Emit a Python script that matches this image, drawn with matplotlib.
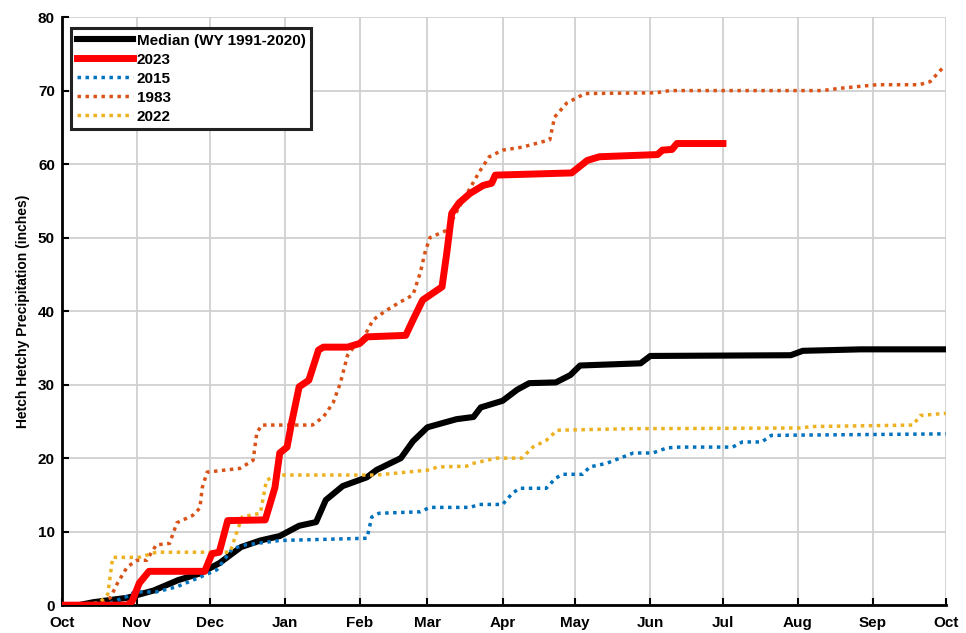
import matplotlib
matplotlib.use("Agg")
import matplotlib.pyplot as plt

plt.rcParams['font.family'] = ['Liberation Sans', 'DejaVu Sans']
plt.rcParams['font.weight'] = 'bold'

# day of water year (0 = Oct 1) and cumulative precipitation (inches)
median_days = [0, 7, 13, 27, 38, 48, 57, 65, 74, 82, 90, 98, 105, 109, 116, 126, 130, 140,
               145, 151, 163, 170, 173, 182, 188, 193, 204, 210, 214, 239, 243, 301, 306, 330, 365]
median_vals = [0, 0, 0.4, 1, 2, 3.4, 4.3, 5.7, 7.9, 8.8, 9.4, 10.8, 11.3, 14.3, 16.2, 17.4, 18.4, 20,
               22.3, 24.2, 25.3, 25.6, 26.9, 27.8, 29.3, 30.2, 30.3, 31.3, 32.6, 32.9, 33.9, 34, 34.6, 34.8, 34.8]

wy2023_days = [0, 27, 29, 32, 36, 59, 62, 65, 68.5, 84, 88, 90, 93, 95, 98, 102, 106, 108, 118,
               123, 126, 142, 145, 149, 153, 157, 159, 161, 164, 168.5, 174, 177.5, 179, 210.5,
               217, 222, 246, 248, 252, 254, 273]
wy2023_vals = [0, 0, 0.5, 3, 4.6, 4.6, 7, 7.2, 11.5, 11.6, 16, 20.7, 21.5, 25, 29.7, 30.6, 34.7, 35.1, 35.1,
               35.6, 36.5, 36.7, 38.8, 41.5, 42.4, 43.3, 48, 53.3, 54.7, 56, 57.1, 57.4, 58.5, 58.8,
               60.5, 61, 61.3, 61.9, 62, 62.8, 62.8]

wy2015_days = [0, 20, 27, 30, 39, 47.5, 57, 64, 70.5, 76, 90, 126, 128, 131, 148, 152, 168.5, 172.5,
               182, 186, 189, 200, 204, 207, 215, 218, 225, 236, 244, 250, 255, 277, 281, 289, 293, 365]
wy2015_vals = [0, 0.3, 1.2, 1.8, 1.8, 2.5, 3.8, 4.8, 7.7, 8.2, 8.8, 9.1, 12, 12.5, 12.7, 13.3, 13.3, 13.7,
               13.7, 15.2, 15.9, 15.9, 17.3, 17.8, 17.8, 18.8, 19.3, 20.7, 20.7, 21.4, 21.5, 21.5, 22.2,
               22.2, 23.1, 23.3]

wy1983_days = [0, 15.5, 20, 23, 27, 31, 35, 39, 44.5, 47.5, 54, 57, 58, 60, 73.5, 79, 80.5, 82.5,
               103.5, 108, 112, 115, 118, 121, 124, 128.5, 134, 139.5, 145, 148, 150, 152, 159, 164,
               172.5, 176.5, 182, 190, 201.5, 203.5, 208.5, 216, 245.5, 251, 314, 321, 336.5, 354,
               358.5, 363.5, 365]
wy1983_vals = [0, 0.2, 1, 3, 5.2, 6.1, 6.1, 8.2, 8.4, 11.2, 12.2, 13.2, 16, 18.1, 18.6, 19.7, 23.4, 24.5,
               24.5, 25.6, 27.5, 30.2, 34, 35.3, 36, 38.8, 40.1, 41.2, 42.2, 45.2, 48, 50, 51, 54.1,
               59, 61, 61.9, 62.3, 63.3, 66.4, 68.3, 69.6, 69.7, 70, 70, 70.3, 70.8, 70.8,
               71.2, 73, 73]

wy2022_days = [0, 15.5, 19, 21, 32, 39, 69.5, 72.5, 74.5, 82, 84.5, 89, 130, 142.5, 152, 155, 167,
               170, 179.5, 190, 194.5, 200, 204.5, 234.5, 304.5, 310, 351.5, 354.5, 365]
wy2022_vals = [0, 0.3, 1.5, 6.5, 6.5, 7.2, 7.2, 10.2, 12, 12.5, 17, 17.7, 17.7, 18.1, 18.4, 18.8, 18.9,
               19.3, 20, 20, 21.5, 22.4, 23.8, 24, 24.1, 24.3, 24.5, 25.8, 26.1]

month_starts = [0, 31, 61, 92, 123, 151, 182, 212, 243, 273, 304, 335, 365]
month_labels = ['Oct', 'Nov', 'Dec', 'Jan', 'Feb', 'Mar', 'Apr', 'May', 'Jun', 'Jul', 'Aug', 'Sep', 'Oct']

fig = plt.figure(figsize=(9.66, 6.33), dpi=100)
ax = fig.add_axes([0.064, 0.044, 0.915, 0.929])

ax.plot(median_days, median_vals, color='black', lw=4.4, label='Median (WY 1991-2020)', zorder=3)
ax.plot(wy2023_days, wy2023_vals, color='#FF0000', lw=5, label='2023', zorder=4)
ax.plot(wy2015_days, wy2015_vals, color='#0072BD', lw=2.5, ls=(0, (1, 1.3)), label='2015', zorder=3)
ax.plot(wy1983_days, wy1983_vals, color='#D95319', lw=2.5, ls=(0, (1, 1.3)), label='1983', zorder=3)
ax.plot(wy2022_days, wy2022_vals, color='#EDB120', lw=2.5, ls=(0, (1, 1.3)), label='2022', zorder=3)

ax.set_xlim(0, 365)
ax.set_ylim(0, 80)
ax.set_xticks(month_starts)
ax.set_xticklabels(month_labels)
ax.set_yticks(range(0, 81, 10))
ax.grid(True, color='#d0d0d0', lw=1.3)
ax.set_axisbelow(True)
ax.tick_params(direction='in', length=5, width=1.5, labelsize=11)
ax.tick_params(axis='x', pad=8)
ax.tick_params(axis='y', pad=5)
for s in ['top', 'right']:
    ax.spines[s].set_visible(False)
for s in ['left', 'bottom']:
    ax.spines[s].set_linewidth(2)
ax.set_ylabel('Hetch Hetchy Precipitation (inches)', fontsize=10, fontweight='bold', labelpad=6)

leg = ax.legend(loc='upper left', bbox_to_anchor=(0.002, 0.994), fontsize=11, handlelength=3.7,
                handletextpad=0.25, labelspacing=0.33, borderpad=0.35, fancybox=False,
                framealpha=1, edgecolor='#222222')
leg.get_frame().set_linewidth(2.2)

fig.savefig('out.png', dpi=100)
